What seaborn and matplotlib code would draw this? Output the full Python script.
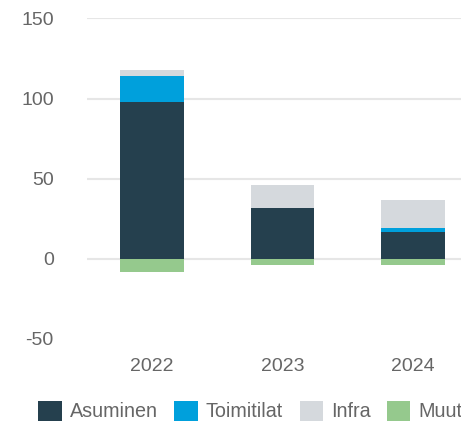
import matplotlib
matplotlib.use("Agg")
import matplotlib.pyplot as plt
import seaborn as sns
import numpy as np
from matplotlib.patches import Patch

# Data
years = ["2022", "2023", "2024"]
asuminen = [98, 32, 17]
toimitilat = [16, 0, 2.5]
infra = [4, 14, 17.5]
muut = [-8, -4, -4]

series_names = ["Asuminen", "Toimitilat", "Infra", "Muut"]
colors = ["#25404E", "#00A0DC", "#D5D9DD", "#95C98D"]

sns.set_style("white")
plt.rcParams["font.family"] = ["Liberation Sans", "DejaVu Sans"]
plt.rcParams["axes.unicode_minus"] = False
text_color = "#666666"

fig = plt.figure(figsize=(4.61, 4.25), dpi=100)
ax = fig.add_axes([87 / 461, 0.2024, 1 - 87 / 461, 0.9565 - 0.2024])

# Stack the positive series, the negative one hangs below zero
bottom = np.zeros(len(years))
for name, vals, col in zip(series_names[:3], [asuminen, toimitilat, infra], colors[:3]):
    sns.barplot(x=years, y=vals, bottom=bottom, color=col, width=0.49, saturation=1,
                ax=ax, order=years, linewidth=0)
    bottom = bottom + np.array(vals)
sns.barplot(x=years, y=muut, color=colors[3], width=0.49, saturation=1, ax=ax,
            order=years, linewidth=0)

ax.set_ylim(-50, 150)
ax.set_xlim(-0.5, 2.37)
ax.set_yticks([-50, 0, 50, 100, 150])
ax.grid(axis="y", color="#E6E6E6", linewidth=1.5)
ax.set_axisbelow(True)
ax.yaxis.get_gridlines()[0].set_visible(False)
for s in ax.spines.values():
    s.set_visible(False)
ax.tick_params(axis="both", length=0, labelsize=14, labelcolor=text_color)
ax.tick_params(axis="x", pad=14)
ax.tick_params(axis="y", pad=24)
ax.set_xlabel("")
ax.set_ylabel("")

handles = [Patch(facecolor=c, edgecolor="none", label=n) for n, c in zip(series_names, colors)]
leg = fig.legend(handles=handles, loc="center", bbox_to_anchor=(0.543, 1 - 411 / 425),
                 ncol=4, frameon=False, fontsize=14.2, handlelength=1.18,
                 handleheight=1.18, handletextpad=0.4, columnspacing=0.85,
                 borderaxespad=0)
for t in leg.get_texts():
    t.set_color(text_color)

fig.savefig("out.png", dpi=100)
